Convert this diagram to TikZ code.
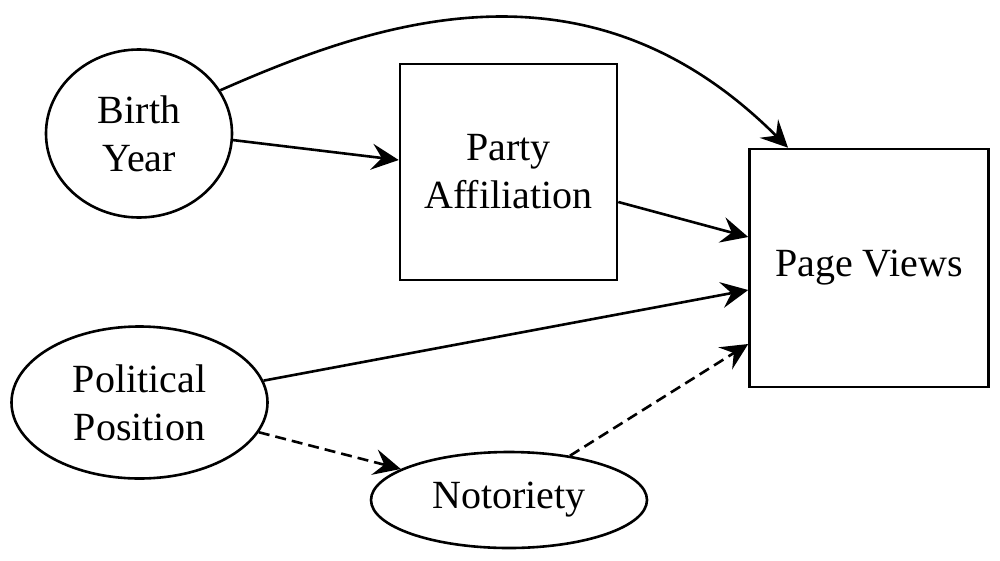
\documentclass[tikz,border=0pt]{standalone}
\usepackage{fontspec}
\setmainfont{Liberation Serif}
\usetikzlibrary{shapes.geometric,arrows.meta,calc}
\begin{document}
\begin{tikzpicture}[x=1pt,y=-1pt,
  every node/.style={font=\fontsize{40}{48}\selectfont, align=center, inner sep=0pt, line width=2.6pt, draw},
  ell/.style={ellipse},
  box/.style={rectangle},
  conn/.style={line width=2.6pt, -{Stealth[length=27pt,width=26pt,inset=10pt]}},
  dconn/.style={conn, dash pattern=on 11pt off 6pt}]
\useasboundingbox (0,0) rectangle (1000,560);
\node[ell, minimum width=186pt, minimum height=168pt] (by) at (139,133.5) {Birth\\Year};
\node[box, minimum width=217pt, minimum height=216pt] (pa) at (508.5,172) {Party\\Affiliation};
\node[box, minimum width=239pt, minimum height=238pt] (pv) at (869,268) {Page Views};
\node[ell, minimum width=256pt, minimum height=152pt] (pp) at (139.5,402.5) {Political\\Position};
\node[ell, minimum width=276pt, minimum height=96pt] (no) at (509,500) {Notoriety};
\draw[conn] (by.-4) -- ($(pa.west)+(0,-12)$);
\draw[conn] (by.28) .. controls +(161,-71) and +(-198,-198) .. ($(pv.north)+(-81,0)$);
\draw[conn] ($(pa.east)+(0,30)$) -- ($(pv.west)+(0,-31)$);
\draw[conn] (pp.10) -- ($(pv.west)+(0,22)$);
\draw[dconn] (pp.-14) -- (no.164);
\draw[dconn] (no.36) -- ($(pv.west)+(0,76)$);
\end{tikzpicture}
\end{document}
